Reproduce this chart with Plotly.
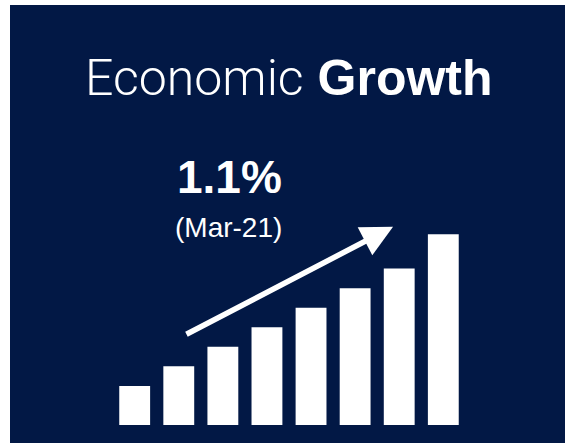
import plotly.graph_objects as go

# Growth bars (relative heights) and their positions
periods = [1, 2, 3, 4, 5, 6, 7, 8]
growth = [2.0, 3.0, 4.0, 5.0, 6.0, 7.0, 8.0, 9.75]

headline_value = "1.1%"
headline_period = "(Mar-21)"

NAVY = "#021845"
WHITE = "#ffffff"

fig = go.Figure(
    go.Bar(
        x=periods,
        y=growth,
        marker=dict(color=WHITE, line=dict(width=0)),
        width=0.7,
        hoverinfo="skip",
    )
)

# Trend arrow rising over the bars
fig.add_annotation(
    x=6.86, y=10.14, ax=2.14, ay=4.60,
    xref="x", yref="y", axref="x", ayref="y",
    text="", showarrow=True,
    arrowhead=2, arrowsize=1.15, arrowwidth=5.5, arrowcolor=WHITE,
)

# Title: light + bold words
fig.add_annotation(
    x=0.503, y=0.834, xref="paper", yref="paper",
    xanchor="center", yanchor="middle", showarrow=False,
    text="<span style='font-family:Roboto;font-weight:300'>Economic</span> <b>Growth</b>",
    font=dict(family="Liberation Sans, Arial", size=50, color=WHITE),
)

fig.add_annotation(
    x=0.396, y=0.607, xref="paper", yref="paper",
    xanchor="center", yanchor="middle", showarrow=False,
    text=f"<b>{headline_value}</b>",
    font=dict(family="Liberation Sans, Arial", size=46, color=WHITE),
)

fig.add_annotation(
    x=0.394, y=0.492, xref="paper", yref="paper",
    xanchor="center", yanchor="middle", showarrow=False,
    text=headline_period,
    font=dict(family="Liberation Sans, Arial", size=28, color=WHITE),
)

fig.update_layout(
    width=565, height=443,
    margin=dict(l=10, r=0, t=5, b=0),
    paper_bgcolor=WHITE,
    plot_bgcolor=NAVY,
    showlegend=False,
    xaxis=dict(range=[-1.828, 10.76], visible=False, fixedrange=True),
    yaxis=dict(range=[-0.92, 21.48], visible=False, fixedrange=True),
)

fig.write_html("out.html", config={"displayModeBar": False})
